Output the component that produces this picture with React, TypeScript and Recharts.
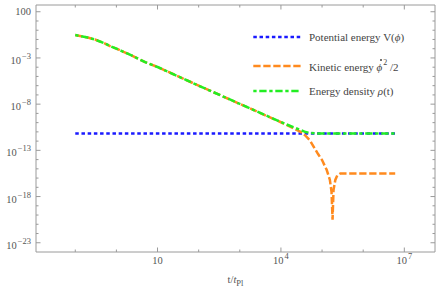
import { LineChart, Line, XAxis, YAxis, Legend } from 'recharts'

// t / t_Pl sample points and the three energy curves
const times = [
  0.1, 0.2, 0.3, 0.5, 0.7, 1, 2, 5, 10, 100, 1000, 1e4, 2e4, 3e4, 4e4, 5e4, 8e4,
  1e5, 1.3e5, 1.55e5, 1.7e5, 1.8e5, 1.9e5, 2.1e5, 2.35e5, 2.8e5, 5e5, 1e6, 6e6,
]
const potential = [
  6.6e-12, 6.6e-12, 6.6e-12, 6.6e-12, 6.6e-12, 6.6e-12, 6.6e-12, 6.6e-12, 6.6e-12, 6.6e-12,
  6.6e-12, 6.6e-12, 6.6e-12, 6.6e-12, 6.6e-12, 6.6e-12, 6.6e-12, 6.6e-12, 6.6e-12, 6.6e-12,
  6.6e-12, 6.6e-12, 6.6e-12, 6.6e-12, 6.6e-12, 6.6e-12, 6.6e-12, 6.6e-12, 6.6e-12,
]
const kinetic = [
  0.3, 0.16, 0.098, 0.041, 0.0195, 0.01, 2.6e-3, 3.6e-4, 1.05e-4, 1.0e-6, 1.07e-8, 1.1e-10,
  2.5e-11, 1.0e-11, 3.7e-12, 1.3e-12, 4e-14, 9e-15, 7.4e-16, 6.3e-17, 3.2e-18, 3.2e-21,
  5e-18, 6.3e-17, 2e-16, 3.2e-16, 3.2e-16, 3.2e-16, 3.2e-16,
]
const density = [
  0.3, 0.16, 0.098, 0.041, 0.0195, 0.01, 2.6e-3, 3.6e-4, 1.05e-4, 1.0e-6, 1.07e-8, 1.15e-10,
  3.2e-11, 1.6e-11, 9.5e-12, 7.9e-12, 6.7e-12, 6.6e-12, 6.6e-12, 6.6e-12, 6.6e-12, 6.6e-12,
  6.6e-12, 6.6e-12, 6.6e-12, 6.6e-12, 6.6e-12, 6.6e-12, 6.6e-12,
]

const xTicks = [0.1, 1, 10, 100, 1000, 1e4, 1e5, 1e6, 1e7]
const xMajor = [1, 4, 7]
const yTicks = Array.from({ length: 26 }, (_, i) => Math.pow(10, 2 - i))
const yMajor = [2, -3, -8, -13, -18, -23]

const data = times.map((t, i) => ({ t, V: potential[i], K: kinetic[i], rho: density[i] }))

const FONT = '"Liberation Serif", "Times New Roman", serif'
const FRAME = '#9a9a9a'
const TEXT = '#555'

const exp10 = (v: number) => Math.round(Math.log10(v))

function PowLabel({ e }: { e: number }) {
  if (e === 2) return <tspan>100</tspan>
  if (e === 1) return <tspan>10</tspan>
  return (
    <>
      <tspan>10</tspan>
      <tspan fontSize={8.5} dx={1} dy={-5}>{e < 0 ? '\u2212' + Math.abs(e) : e}</tspan>
    </>
  )
}

function BottomTick(props: any) {
  const { x, y, payload } = props
  const e = exp10(payload.value)
  const major = xMajor.includes(e)
  return (
    <g>
      <line x1={x} x2={x} y1={y} y2={y - (major ? 4.5 : 2.5)} stroke={FRAME} />
      {major && (
        <text x={x} y={y + 12} textAnchor="middle" fontFamily={FONT} fontSize={10.5} fill={TEXT}>
          <PowLabel e={e} />
        </text>
      )}
    </g>
  )
}

function TopTick(props: any) {
  const { x, y, payload } = props
  const major = xMajor.includes(exp10(payload.value))
  return <line x1={x} x2={x} y1={y} y2={y + (major ? 4.5 : 2.5)} stroke={FRAME} />
}

function LeftTick(props: any) {
  const { x, y, payload } = props
  const e = exp10(payload.value)
  const major = yMajor.includes(e)
  return (
    <g>
      <line x1={x} x2={x + (major ? 4.5 : 2.5)} y1={y} y2={y} stroke={FRAME} />
      {major && (
        <text x={x - 5} y={y + (e === 2 ? 3.5 : 6)} textAnchor="end" fontFamily={FONT} fontSize={10.5} fill={TEXT}>
          <PowLabel e={e} />
        </text>
      )}
    </g>
  )
}

function RightTick(props: any) {
  const { x, y, payload } = props
  const major = yMajor.includes(exp10(payload.value))
  return <line x1={x} x2={x - (major ? 4.5 : 2.5)} y1={y} y2={y} stroke={FRAME} />
}

// phi with a small dot drawn above it
const PhiDot = () => (
  <span style={{ position: 'relative', display: 'inline-block', fontStyle: 'italic' }}>
    ϕ
    <span
      style={{ position: 'absolute', left: 3.5, top: 0, width: 1.6, height: 1.6, borderRadius: 1, background: '#444' }}
    />
  </span>
)

const legendOrder = ['V', 'K', 'rho']
const legendText: Record<string, any> = {
  V: <>Potential energy V(<i>ϕ</i>)</>,
  K: (
    <>
      Kinetic energy <PhiDot />
      <sup style={{ fontSize: 8, position: 'relative', top: -1, marginLeft: 1 }}>2</sup> /2
    </>
  ),
  rho: <>Energy density <i>ρ</i>(t)</>,
}
const legendRowCenters = [11.3, 39.7, 64.7]

function LegendBox({ payload }: any) {
  const items = [...(payload || [])].sort(
    (a: any, b: any) => legendOrder.indexOf(a.dataKey) - legendOrder.indexOf(b.dataKey)
  )
  return (
    <div style={{ position: 'relative', height: 80, fontFamily: FONT, fontSize: 11, color: '#444' }}>
      {items.map((p: any, i: number) => (
        <div
          key={p.dataKey}
          style={{ position: 'absolute', left: 0, top: legendRowCenters[i] - 8, height: 16, display: 'flex', alignItems: 'center', whiteSpace: 'nowrap' }}
        >
          <svg width={48} height={6} style={{ display: 'block' }}>
            <line x1={0.3} x2={47.7} y1={3} y2={3} stroke={p.color} strokeWidth={2.5} strokeDasharray={p.payload?.strokeDasharray} />
          </svg>
          <span style={{ marginLeft: 8, lineHeight: '16px' }}>{legendText[p.dataKey]}</span>
        </div>
      ))}
    </div>
  )
}

export default function App() {
  return (
    <div style={{ position: 'absolute', left: 0, top: 0, width: 442, height: 297, background: '#fff' }}>
      <LineChart width={442} height={297} data={data} margin={{ top: 4, right: 6, left: 0, bottom: 5 }}>
        <XAxis
          dataKey="t"
          type="number"
          scale="log"
          domain={[0.0111, 5.57e7]}
          allowDataOverflow
          ticks={xTicks}
          interval={0}
          height={40}
          tickSize={0}
          tickMargin={0}
          axisLine={{ stroke: FRAME }}
          tick={<BottomTick />}
          label={{
            content: (p: any) => {
              const vb = p.viewBox
              return (
                <text x={vb.x + vb.width / 2} y={vb.y + 31} textAnchor="middle" fontFamily={FONT} fontSize={10.5} fill={TEXT}>
                  <tspan>t/</tspan>
                  <tspan fontStyle="italic">t</tspan>
                  <tspan fontSize={8.5} dy={3}>Pl</tspan>
                </text>
              )
            },
          }}
        />
        <XAxis
          xAxisId="top"
          orientation="top"
          dataKey="t"
          type="number"
          scale="log"
          domain={[0.0111, 5.57e7]}
          allowDataOverflow
          ticks={xTicks}
          interval={0}
          height={1}
          tickSize={0}
          tickMargin={0}
          axisLine={{ stroke: FRAME }}
          tick={<TopTick />}
        />
        <YAxis
          type="number"
          scale="log"
          domain={[1e-24, 537]}
          allowDataOverflow
          ticks={yTicks}
          interval={0}
          width={36}
          tickSize={0}
          tickMargin={0}
          axisLine={{ stroke: FRAME }}
          tick={<LeftTick />}
        />
        <YAxis
          yAxisId="right"
          orientation="right"
          type="number"
          scale="log"
          domain={[1e-24, 537]}
          allowDataOverflow
          ticks={yTicks}
          interval={0}
          width={1}
          tickSize={0}
          tickMargin={0}
          axisLine={{ stroke: FRAME }}
          tick={<RightTick />}
        />
        <Legend
          layout="vertical"
          align="center"
          verticalAlign="middle"
          wrapperStyle={{ left: 253, top: 26, width: 189 }}
          content={<LegendBox />}
        />
        <Line
          dataKey="V"
          name="Potential energy"
          type="linear"
          stroke="#1a1aff"
          strokeWidth={2.5}
          strokeDasharray="3.5 2.7"
          dot={false}
          activeDot={false}
          isAnimationActive={false}
        />
        <Line
          dataKey="K"
          name="Kinetic energy"
          type="linear"
          stroke="#ff8a1e"
          strokeWidth={2.5}
          strokeDasharray="7.3 2.7"
          dot={false}
          activeDot={false}
          isAnimationActive={false}
        />
        <Line
          dataKey="rho"
          name="Energy density"
          type="linear"
          stroke="#22ee22"
          strokeWidth={2.5}
          strokeDasharray="3.3 2.7 7.3 2.7"
          dot={false}
          activeDot={false}
          isAnimationActive={false}
        />
      </LineChart>
    </div>
  )
}
